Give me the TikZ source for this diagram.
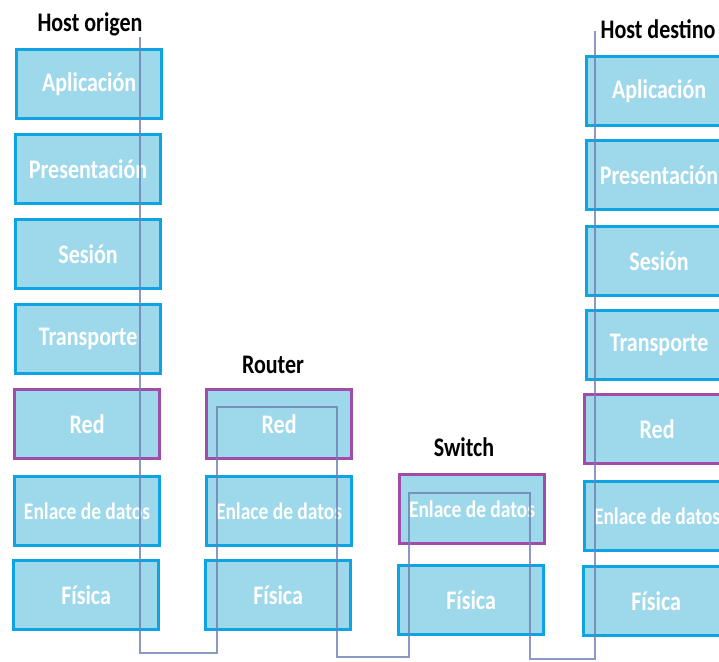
\documentclass[tikz,border=0pt]{standalone}
\usepackage{fontspec}
\setmainfont{Carlito}
\newcommand{\stretchtxt}[1]{\scalebox{1}[1.22]{#1}}
\begin{document}
\begin{tikzpicture}[x=1pt,y=-1pt,
  layer/.style={draw=boxblue,fill=boxfill,line width=3.2pt,minimum width=145pt,minimum height=69pt,
    inner sep=0pt,text=white,font=\fontsize{22}{22}\selectfont\bfseries,anchor=north west},
  netlayer/.style={layer,draw=boxpurple},
  small/.style={font=\fontsize{19.5}{19.5}\selectfont\bfseries},
  title/.style={font=\fontsize{22}{22}\selectfont\bfseries,text=black,inner sep=0pt},
  wire/.style={draw=wirecol,line width=1.1pt,opacity=0.8}]
\definecolor{boxblue}{RGB}{14,164,228}
\definecolor{boxfill}{RGB}{157,217,234}
\definecolor{boxpurple}{RGB}{160,76,168}
\definecolor{wirecol}{RGB}{110,128,180}
\useasboundingbox (0,0) rectangle (719,661);
\begin{scope}
\clip (0,0) rectangle (719,661);
% Host origen
\node[title] (t1) at (90,24) {\stretchtxt{Host origen}};
\node[layer] (a1) at (15,48) {\stretchtxt{Aplicación}};
\node[layer] (b1) at (14,133) {\stretchtxt{Presentación}};
\node[layer] (c1) at (14,218) {\stretchtxt{Sesión}};
\node[layer] (d1) at (14,303) {\stretchtxt{Transporte}};
\node[netlayer] (e1) at (13,388) {\stretchtxt{Red}};
\node[layer,small] (f1) at (13,475) {\stretchtxt{Enlace de datos}};
\node[layer] (g1) at (12,559) {\stretchtxt{Física}};
% Router
\node[title] (t2) at (273,365) {\stretchtxt{Router}};
\node[netlayer] (e2) at (205,388) {\stretchtxt{Red}};
\node[layer,small] (f2) at (205,475) {\stretchtxt{Enlace de datos}};
\node[layer] (g2) at (204,559) {\stretchtxt{Física}};
% Switch
\node[title] (t3) at (464,447) {\stretchtxt{Switch}};
\node[netlayer,small] (f3) at (398,473) {\stretchtxt{Enlace de datos}};
\node[layer] (g3) at (397,564) {\stretchtxt{Física}};
% Host destino
\node[title] (t4) at (658,29) {\stretchtxt{Host destino}};
\node[layer] (a4) at (585,55) {\stretchtxt{Aplicación}};
\node[layer] (b4) at (585,139) {\stretchtxt{Presentación}};
\node[layer] (c4) at (585,225) {\stretchtxt{Sesión}};
\node[layer] (d4) at (585,309) {\stretchtxt{Transporte}};
\node[netlayer] (e4) at (583,393) {\stretchtxt{Red}};
\node[layer,small] (f4) at (583,480) {\stretchtxt{Enlace de datos}};
\node[layer] (g4) at (582,565) {\stretchtxt{Física}};
% path
\coordinate (p0) at (140,37);
\coordinate (p1) at (140,653);
\coordinate (p2) at (217,653);
\coordinate (p3) at (217,407);
\coordinate (p4) at (337,407);
\coordinate (p5) at (337,657);
\coordinate (p6) at (409,657);
\coordinate (p7) at (409,493);
\coordinate (p8) at (530,493);
\coordinate (p9) at (530,659);
\coordinate (p10) at (595,659);
\coordinate (p11) at (595,31);
\draw[wire] (p0) -- (p1) -- (p2) -- (p3) -- (p4) -- (p5) -- (p6) -- (p7) -- (p8) -- (p9) -- (p10) -- (p11);
\end{scope}
\end{tikzpicture}
\end{document}
